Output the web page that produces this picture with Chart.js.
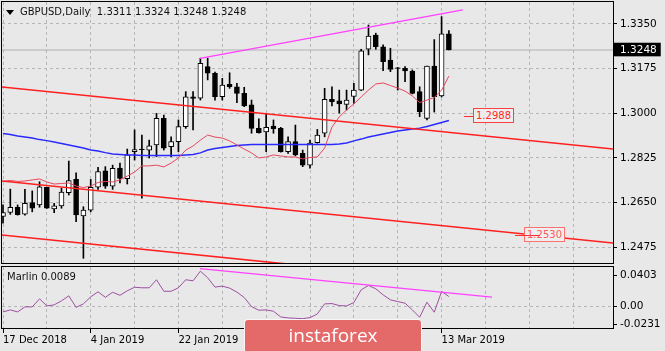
<!DOCTYPE html>
<html>
<head>
<meta charset="utf-8">
<script src="https://cdn.jsdelivr.net/npm/chart.js@4.4.1/dist/chart.umd.min.js"></script>
<style>
  html, body { margin: 0; padding: 0; background: #e8e8e8; }
  #wrap { position: relative; width: 665px; height: 351px; overflow: hidden; background: #e8e8e8; font-family: "DejaVu Sans", sans-serif; }
  #main { position: absolute; left: 0; top: 0; }
  #ind { position: absolute; left: 0; top: 266px; }
  .txt { position: absolute; font-size: 10px; line-height: 12px; color: #111; white-space: nowrap; }
  .tri { position: absolute; left: 6px; top: 10px; width: 0; height: 0; border-left: 4px solid transparent; border-right: 4px solid transparent; border-top: 5px solid #000; }
  .lbl { position: absolute; font-size: 10px; line-height: 13px; padding: 0 2px; border: 1px solid #ff4040; color: #ff2a2a; background: #eeeeee; }
  .mark { position: absolute; height: 1px; background: #ff3030; }
  #logo { position: absolute; left: 245px; top: 320px; width: 176px; height: 31px; background: #e46a6a; color: #fff; font-family: "Open Sans", sans-serif; font-size: 19px; line-height: 30px; text-align: center; border-radius: 3px 3px 0 0; box-shadow: 0 0 0 1px #f7f7f7; }
</style>
</head>
<body>
<div id="wrap">
  <canvas id="main" width="665" height="266"></canvas>
  <canvas id="ind" width="665" height="85"></canvas>
  <div class="tri"></div>
  <div class="txt" style="left:20px;top:6px;">GBPUSD,Daily&nbsp; 1.3311 1.3324 1.3248 1.3248</div>
  <div class="txt" style="left:7px;top:271px;">Marlin 0.0089</div>
  <div class="mark" style="left:464px;top:116px;width:10px;"></div>
  <div class="lbl" style="left:473px;top:108px;">1.2988</div>
  <div class="lbl" style="left:524px;top:227px;color:#ff5a5a;border-color:#ff7070;">1.2530</div>
  <div class="mark" style="left:515px;top:235px;width:25px;"></div>
  <div id="logo">instaforex</div>
</div>
<script>
// bars: 17 Dec 2018 .. 14 Mar 2019 (daily, holidays skipped)
const dates = ['17 Dec 2018','18 Dec 2018','19 Dec 2018','20 Dec 2018','21 Dec 2018','24 Dec 2018','26 Dec 2018','27 Dec 2018','28 Dec 2018','31 Dec 2018',
  '2 Jan 2019','3 Jan 2019','4 Jan 2019','7 Jan 2019','8 Jan 2019','9 Jan 2019','10 Jan 2019','11 Jan 2019','14 Jan 2019','15 Jan 2019',
  '16 Jan 2019','17 Jan 2019','18 Jan 2019','21 Jan 2019','22 Jan 2019','23 Jan 2019','24 Jan 2019','25 Jan 2019','28 Jan 2019','29 Jan 2019',
  '30 Jan 2019','31 Jan 2019','1 Feb 2019','4 Feb 2019','5 Feb 2019','6 Feb 2019','7 Feb 2019','8 Feb 2019','11 Feb 2019','12 Feb 2019',
  '13 Feb 2019','14 Feb 2019','15 Feb 2019','18 Feb 2019','19 Feb 2019','20 Feb 2019','21 Feb 2019','22 Feb 2019','25 Feb 2019','26 Feb 2019',
  '27 Feb 2019','28 Feb 2019','1 Mar 2019','4 Mar 2019','5 Mar 2019','6 Mar 2019','7 Mar 2019','8 Mar 2019','11 Mar 2019','12 Mar 2019',
  '13 Mar 2019','14 Mar 2019'];

const opens = [1.2596,1.2612,1.2632,1.2605,1.2650,1.2641,1.2710,1.2625,1.2637,1.2689,
  1.2741,1.2598,1.2621,1.2711,1.2775,1.2715,1.2785,1.2744,1.2850,1.2860,
  1.2856,1.2876,1.2980,1.2869,1.2889,1.2948,1.3065,1.3059,1.3183,1.3157,
  1.3065,1.3114,1.3104,1.3078,1.3033,1.2941,1.2927,1.2950,1.2941,1.2850,
  1.2889,1.2843,1.2797,1.2885,1.2922,1.3055,1.3049,1.3035,1.3066,1.3091,
  1.3251,1.3307,1.3261,1.3209,1.3178,1.3176,1.3166,1.3085,1.2980,1.3185,
  1.3068,1.3311];
const highs = [1.2641,1.2703,1.2641,1.2702,1.2696,1.2732,1.2711,1.2647,1.2706,1.2813,
  1.2767,1.2634,1.2741,1.2788,1.2791,1.2797,1.2805,1.2860,1.2935,1.2915,
  1.2895,1.3000,1.2993,1.2908,1.2974,1.3085,1.3085,1.3216,1.3216,1.3162,
  1.3137,1.3159,1.3118,1.3102,1.3052,1.2978,1.3000,1.2974,1.2945,1.2908,
  1.2954,1.2856,1.2895,1.2937,1.3098,1.3104,1.3091,1.3091,1.3118,1.3251,
  1.3346,1.3314,1.3268,1.3255,1.3180,1.3183,1.3170,1.3104,1.3185,1.3289,
  1.3379,1.3324];
const lows = [1.2570,1.2604,1.2601,1.2601,1.2614,1.2632,1.2627,1.2611,1.2628,1.2680,
  1.2575,1.2432,1.2614,1.2702,1.2706,1.2702,1.2727,1.2723,1.2817,1.2668,
  1.2825,1.2830,1.2856,1.2830,1.2850,1.2941,1.2935,1.3052,1.3131,1.3052,
  1.3052,1.3098,1.3042,1.3026,1.2922,1.2922,1.2850,1.2922,1.2848,1.2843,
  1.2833,1.2791,1.2785,1.2883,1.2908,1.3029,1.3001,1.3013,1.3039,1.3089,
  1.3229,1.3251,1.3167,1.3163,1.3091,1.3124,1.3076,1.2987,1.2974,1.3005,
  1.3064,1.3248];
const closes = [1.2611,1.2632,1.2603,1.2647,1.2628,1.2712,1.2628,1.2638,1.2691,1.2736,
  1.2602,1.2621,1.2710,1.2772,1.2715,1.2784,1.2745,1.2837,1.2858,1.2858,
  1.2873,1.2980,1.2863,1.2889,1.2948,1.3065,1.3058,1.3196,1.3157,1.3065,
  1.3111,1.3104,1.3078,1.3029,1.2941,1.2924,1.2945,1.2940,1.2850,1.2889,
  1.2837,1.2797,1.2883,1.2915,1.3055,1.3046,1.3037,1.3052,1.3091,1.3245,
  1.3303,1.3261,1.3202,1.3172,1.3176,1.3166,1.3078,1.3006,1.3185,1.3065,
  1.3311,1.3248];

// moving averages
const fastMA = [1.2733,1.2737,1.2733,1.2735,1.2739,1.2743,1.2731,1.2723,1.2725,1.2727,
  1.2715,1.2709,1.2715,1.2729,1.2733,1.2731,1.2739,1.2754,1.2770,1.2794,
  1.2794,1.2797,1.2790,1.2805,1.2825,1.2856,1.2872,1.2895,1.2915,1.2907,
  1.2903,1.2892,1.2876,1.2860,1.2845,1.2825,1.2829,1.2837,1.2833,1.2829,
  1.2829,1.2821,1.2827,1.2829,1.2864,1.2946,1.2986,1.3013,1.3037,1.3064,
  1.3091,1.3115,1.3119,1.3109,1.3099,1.3087,1.3068,1.3042,1.3052,1.3062,
  1.3091,1.3146];
const slowMA = [1.2921,1.2917,1.2911,1.2907,1.2903,1.2897,1.2893,1.2888,1.2882,1.2876,
  1.2870,1.2864,1.2856,1.2852,1.2846,1.2841,1.2839,1.2837,1.2837,1.2835,
  1.2835,1.2835,1.2835,1.2835,1.2835,1.2837,1.2839,1.2845,1.2856,1.2862,
  1.2866,1.2870,1.2874,1.2876,1.2878,1.2878,1.2878,1.2878,1.2878,1.2878,
  1.2878,1.2878,1.2878,1.2878,1.2878,1.2878,1.2880,1.2884,1.2892,1.2899,
  1.2907,1.2913,1.2919,1.2925,1.2931,1.2935,1.2939,1.2942,1.2948,1.2956,
  1.2964,1.2972];

// Marlin oscillator
const marlin = [-0.0069,-0.0043,-0.0069,-0.0004,-0.0004,0.0100,0.0009,0.0022,0.0074,0.0139,
  -0.0010,0.0035,0.0126,0.0191,0.0120,0.0185,0.0146,0.0204,0.0250,0.0243,
  0.0243,0.0347,0.0198,0.0198,0.0243,0.0347,0.0334,0.0458,0.0373,0.0252,
  0.0265,0.0239,0.0187,0.0117,0.0000,-0.0047,-0.0043,-0.0060,-0.0134,-0.0147,
  -0.0151,-0.0156,-0.0143,-0.0095,0.0035,0.0039,0.0013,0.0009,0.0052,0.0217,
  0.0273,0.0230,0.0152,0.0087,0.0065,0.0044,-0.0043,-0.0138,0.0057,-0.0073,
  0.0195,0.0130];

const priceTicks = [1.2475, 1.2650, 1.2825, 1.3000, 1.3175, 1.3350];
const lastPrice = 1.3248;
const marlinTicks = [-0.0231, 0, 0.0403];

// x range in bar units, y ranges
const xMin = -0.137, xMax = 83.45;
const yMin = 1.24096, yMax = 1.34362;
const mMin = -0.0290, mMax = 0.0512;

// drawn objects, endpoints as [bar, value]
const channelTop = [[xMin, 1.3103], [xMax, 1.2860]];
const channelMid = [[xMin, 1.2735], [xMax, 1.2492]];
const channelLow = [[xMin, 1.2523], [xMax, 1.2280]];
const priceTrend = [[26.95, 1.3215], [62.9, 1.3405]];
const marlinTrend = [[26.95, 0.0490], [66.9, 0.0122]];

const gridStep = 6, labelStep = 12;

const FONT = 'DejaVu Sans';
const GRID = '#b6b6b6';

function pts(list) { return list.map((v, i) => ({x: i, y: v})); }
function seg(p) { return p.map(a => ({x: a[0], y: a[1]})); }
function xTicks() { var t = []; for (var v = 0; v <= xMax; v += gridStep) t.push({value: v}); return t; }
// keep the plot area exactly where the layout padding puts it
function noPad(s) { s.paddingTop = 0; s.paddingBottom = 0; s.paddingLeft = 0; s.paddingRight = 0; }

const framePlugin = {
  id: 'frame',
  afterDraw(chart) {
    const a = chart.chartArea, ctx = chart.ctx;
    ctx.save();
    ctx.strokeStyle = '#000';
    ctx.lineWidth = 1;
    ctx.strokeRect(Math.round(a.left) - 0.5, Math.round(a.top) - 0.5, Math.round(a.right - a.left) + 1, Math.round(a.bottom - a.top));
    ctx.restore();
  }
};

function lineSet(data, color, width, order) {
  return {type: 'line', data: data, borderColor: color, borderWidth: width, pointRadius: 0,
    tension: 0, fill: false, clip: 0, order: order};
}

new Chart(document.getElementById('main'), {
  type: 'bar',
  data: {
    datasets: [
      lineSet(seg([[xMin, lastPrice], [xMax, lastPrice]]), '#b0b0b0', 1, 20),
      {
        data: lows.map((l, i) => ({x: i, y: [l, highs[i]]})),
        backgroundColor: '#000', borderWidth: 0, barThickness: 1, grouped: false, order: 10
      },
      {
        data: opens.map((o, i) => ({x: i, y: [o, closes[i]]})),
        backgroundColor: ctx => closes[ctx.dataIndex] >= opens[ctx.dataIndex] ? '#ffffff' : '#000000',
        borderColor: '#000', borderWidth: 1, borderSkipped: false, barThickness: 5, grouped: false, order: 9
      },
      lineSet(pts(slowMA), '#2a2aff', 1.5, 5),
      lineSet(pts(fastMA), '#e5475f', 1, 4),
      lineSet(seg(channelTop), '#ff2020', 1.6, 3),
      lineSet(seg(channelMid), '#ff2020', 1.6, 3),
      lineSet(seg(channelLow), '#ff2020', 1.6, 3),
      lineSet(seg(priceTrend), '#ff40ff', 1.2, 2)
    ]
  },
  options: {
    responsive: false,
    animation: false,
    events: [],
    layout: {padding: {left: 2, top: 2, right: 0, bottom: 2}, autoPadding: false},
    plugins: {legend: {display: false}, tooltip: {enabled: false}},
    scales: {
      x: {
        type: 'linear', min: xMin, max: xMax, offset: false,
        afterBuildTicks: s => { s.ticks = xTicks(); },
        afterFit: s => { s.height = 0; noPad(s); },
        ticks: {display: false},
        grid: {color: GRID, drawTicks: false, offset: false},
        border: {display: false, dash: [3, 3]}
      },
      y: {
        position: 'right', min: yMin, max: yMax,
        afterBuildTicks: s => { s.ticks = priceTicks.concat([lastPrice]).map(v => ({value: v})); },
        afterFit: s => { s.width = 52; noPad(s); },
        ticks: {
          autoSkip: false, padding: 3,
          font: {family: FONT, size: 10.5},
          color: ctx => ctx.tick && ctx.tick.value === lastPrice ? '#ffffff' : '#000000',
          showLabelBackdrop: ctx => !!(ctx.tick && ctx.tick.value === lastPrice),
          backdropColor: '#000',
          backdropPadding: {top: 1, bottom: 0, left: 7, right: 4},
          callback: v => v.toFixed(4)
        },
        grid: {
          color: ctx => ctx.tick && ctx.tick.value === lastPrice ? 'rgba(0,0,0,0)' : GRID,
          tickColor: '#000', tickLength: 4
        },
        border: {display: false, dash: [3, 3]}
      }
    }
  },
  plugins: [framePlugin]
});

function dateLabel(v) {
  return (v % labelStep === 0 && v < dates.length) ? dates[v] : '';
}

new Chart(document.getElementById('ind'), {
  type: 'line',
  data: {
    datasets: [
      lineSet(pts(marlin), '#9d4fa0', 1, 2),
      lineSet(seg(marlinTrend), '#ff40ff', 1.2, 1)
    ]
  },
  options: {
    responsive: false,
    animation: false,
    events: [],
    layout: {padding: {left: 2, top: 1, right: 0, bottom: 0}, autoPadding: false},
    plugins: {legend: {display: false}, tooltip: {enabled: false}},
    scales: {
      x: {
        type: 'linear', min: xMin, max: xMax, offset: false,
        afterBuildTicks: s => { s.ticks = xTicks(); },
        afterFit: s => { s.height = 22; noPad(s); },
        ticks: {
          autoSkip: false, maxRotation: 0, align: 'start', padding: 1,
          font: {family: FONT, size: 10}, color: '#000',
          callback: v => dateLabel(v)
        },
        grid: {
          color: GRID, tickLength: 4, offset: false,
          tickColor: ctx => ctx.tick && dateLabel(ctx.tick.value) ? '#000' : 'rgba(0,0,0,0)'
        },
        border: {display: false, dash: [3, 3]}
      },
      y: {
        position: 'right', min: mMin, max: mMax,
        afterBuildTicks: s => { s.ticks = marlinTicks.map(v => ({value: v})); },
        afterFit: s => { s.width = 52; noPad(s); },
        ticks: {
          autoSkip: false, padding: 3,
          font: {family: FONT, size: 10.5}, color: '#000',
          callback: v => v === 0 ? '0.00' : v.toFixed(4)
        },
        grid: {
          color: ctx => ctx.tick && ctx.tick.value === 0 ? GRID : 'rgba(0,0,0,0)',
          tickColor: '#000', tickLength: 4
        },
        border: {display: false, dash: [3, 3]}
      }
    }
  },
  plugins: [framePlugin]
});
</script>
</body>
</html>
